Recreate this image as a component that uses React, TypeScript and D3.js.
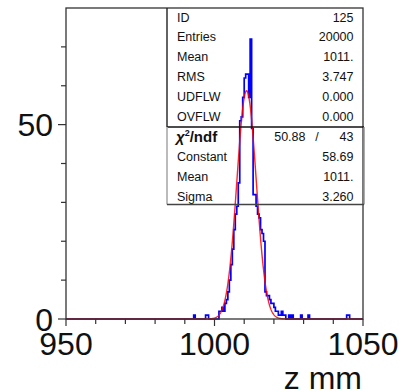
import React from "react";
import * as d3 from "d3";

// ---- data ----
const xDomain = [950, 1050];
const yDomain = [0, 80];
const xTickValues = [950, 960, 970, 980, 990, 1000, 1010, 1020, 1030, 1040, 1050];
const xTickLabels = ["950", "1000", "1050"];
const yTickValues = [0, 10, 20, 30, 40, 50, 60, 70];
const yTickLabels = ["0", "50"];
const binWidth = 0.5;
const coreStart = 1001.5;
const coreCounts = [
  2, 2, 3, 2, 4, 5, 7, 10, 14, 18, 23, 27, 29, 35, 51, 52, 57, 62, 63, 63, 57, 72,
  49, 32, 32, 29, 27, 26, 23, 22, 20, 7, 6, 6, 5, 4, 4, 3, 2, 2, 1, 1, 2, 1, 1,
];
const outlierLows = [993, 997, 997.5, 1025, 1026, 1029, 1031.5, 1044.5, 1045];
const outlierCounts = [1, 1, 1, 1, 1, 1, 1, 1, 1];
const fitConstant = 58.69;
const fitMean = 1010.8;
const fitSigma = 3.26;
const statLabels = ["ID", "Entries", "Mean", "RMS", "UDFLW", "OVFLW"];
const statValues = ["125", "20000", "1011.", "3.747", "0.000", "0.000"];
const chi2Value = "50.88";
const ndfValue = "43";
const fitLabels = ["Constant", "Mean", "Sigma"];
const fitValues = ["58.69", "1011.", "3.260"];
const xTitle = "z mm";

export default function App() {
  const W = 399, H = 392;
  const x = d3.scaleLinear().domain(xDomain).range([66, 363]);
  const y = d3.scaleLinear().domain(yDomain).range([319, 8]);

  const nBins = Math.round((xDomain[1] - xDomain[0]) / binWidth);
  const counts = new Array(nBins).fill(0);
  coreCounts.forEach((c, i) => {
    const idx = Math.round((coreStart + i * binWidth - xDomain[0]) / binWidth);
    counts[idx] = c;
  });
  outlierLows.forEach((lo, i) => {
    const idx = Math.round((lo - xDomain[0]) / binWidth);
    counts[idx] = outlierCounts[i];
  });
  const pts: [number, number][] = [[xDomain[0], 0]];
  counts.forEach((c, i) => {
    const lo = xDomain[0] + i * binWidth;
    pts.push([lo, c], [lo + binWidth, c]);
  });
  pts.push([xDomain[1], 0]);
  const histPath = d3.line<[number, number]>().x((d) => x(d[0])).y((d) => y(d[1]))(pts) || "";

  const fitPts = d3.range(xDomain[0], xDomain[1] + 0.001, 0.1).map((v) => [
    v,
    fitConstant * Math.exp(-0.5 * Math.pow((v - fitMean) / fitSigma, 2)),
  ] as [number, number]);
  const fitPath = d3.line<[number, number]>().x((d) => x(d[0])).y((d) => y(d[1]))(fitPts) || "";

  const font = "Liberation Sans, Arial, sans-serif";
  const boxL = 167, boxR = 364, boxT = 8, boxMid = 127, boxB = 204.5;
  const rowY = (i: number) => 17 + i * 19.9;

  return (
    <svg width={W} height={H} style={{ position: "absolute", left: 0, top: 0, background: "#fff" }}>
      <rect x={0} y={0} width={W} height={H} fill="#fff" />
      {/* histogram */}
      <path d={histPath} fill="none" stroke="#0000ff" strokeWidth={1.7} />
      {/* fit */}
      <path d={fitPath} fill="none" stroke="#ff0000" strokeWidth={1.4} strokeOpacity={0.85} />
      {/* frame */}
      <rect x={66} y={8} width={297} height={311} fill="none" stroke="#333" strokeWidth={1.3} />
      {/* y ticks */}
      {yTickValues.map((v) => {
        const major = yTickLabels.includes(String(v));
        return (
          <line key={"yt" + v} x1={major ? 58 : 61} x2={66} y1={y(v)} y2={y(v)} stroke="#333" strokeWidth={1.2} />
        );
      })}
      {yTickLabels.map((l) => (
        <text key={"yl" + l} x={53} y={y(+l) + 11.5} textAnchor="end" fontFamily={font} fontSize={32} fill="#111">
          {l}
        </text>
      ))}
      {/* x ticks */}
      {xTickValues.map((v) => {
        const major = xTickLabels.includes(String(v));
        return (
          <line key={"xt" + v} x1={x(v)} x2={x(v)} y1={319} y2={major ? 326 : 324} stroke="#333" strokeWidth={1.2} />
        );
      })}
      {xTickLabels.map((l) => (
        <text key={"xl" + l} x={x(+l)} y={355} textAnchor="middle" fontFamily={font} fontSize={32} fill="#111">
          {l}
        </text>
      ))}
      <text x={362} y={388.5} textAnchor="end" fontFamily={font} fontSize={32} fill="#111">
        {xTitle}
      </text>
      {/* stats box */}
      <line x1={boxL} x2={boxL} y1={boxT} y2={boxMid} stroke="#222" strokeWidth={1.4} />
      <line x1={boxL} x2={boxR} y1={boxMid} y2={boxMid} stroke="#111" strokeWidth={1.6} />
      <line x1={boxL} x2={boxL} y1={boxMid} y2={boxB} stroke="#aaa" strokeWidth={1.6} />
      <line x1={boxR} x2={boxR} y1={boxMid} y2={boxB} stroke="#888" strokeWidth={1.4} />
      <line x1={boxL} x2={boxR} y1={boxB} y2={boxB} stroke="#444" strokeWidth={1.5} />
      {statLabels.map((l, i) => (
        <g key={"s" + i} fontFamily={font} fontSize={12.5} fill="#111">
          <text x={177} y={rowY(i) + 4.5}>{l}</text>
          <text x={353.5} y={rowY(i) + 4.5} textAnchor="end">{statValues[i]}</text>
        </g>
      ))}
      <g fontFamily={font} fill="#111">
        <text x={176} y={rowY(6) + 5.5} fontSize={15} fontWeight="bold">
          <tspan fontStyle="italic">χ</tspan>
          <tspan fontSize={9} dy={-6}>2</tspan>
          <tspan dy={6}>/ndf</tspan>
        </text>
        <text x={305.5} y={rowY(6) + 4.5} fontSize={12.5} textAnchor="end">{chi2Value}</text>
        <text x={317} y={rowY(6) + 4.5} fontSize={12.5} textAnchor="middle">/</text>
        <text x={353.5} y={rowY(6) + 4.5} fontSize={12.5} textAnchor="end">{ndfValue}</text>
      </g>
      {fitLabels.map((l, i) => (
        <g key={"f" + i} fontFamily={font} fontSize={12.5} fill="#111">
          <text x={177} y={rowY(7 + i) + 4.5}>{l}</text>
          <text x={353.5} y={rowY(7 + i) + 4.5} textAnchor="end">{fitValues[i]}</text>
        </g>
      ))}
    </svg>
  );
}
